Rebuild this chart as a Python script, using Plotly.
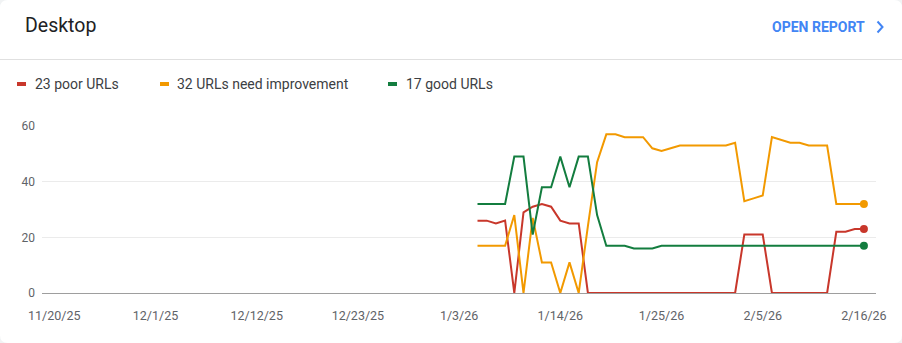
import plotly.graph_objects as go
import pandas as pd

# ---------------- data ----------------
dates = pd.date_range("2026-01-05", "2026-02-16", freq="D")

poor = [26, 26, 25, 26, 0, 29, 31, 32, 31, 26, 25, 25, 0,
        0, 0, 0, 0, 0, 0, 0, 0, 0, 0, 0, 0, 0, 0, 0, 0,
        21, 21, 21, 0, 0, 0, 0, 0, 0, 0, 22, 22, 23, 23]
need_improvement = [17, 17, 17, 17, 28, 0, 27, 11, 11, 0, 11, 0, 24,
                    47, 57, 57, 56, 56, 56, 52, 51, 52, 53, 53, 53, 53, 53, 53, 54,
                    33, 34, 35, 56, 55, 54, 54, 53, 53, 53, 32, 32, 32, 32]
good = [32, 32, 32, 32, 49, 49, 21, 38, 38, 49, 38, 49, 49,
        28, 17, 17, 17, 16, 16, 16, 17, 17, 17, 17, 17, 17, 17, 17, 17,
        17, 17, 17, 17, 17, 17, 17, 17, 17, 17, 17, 17, 17, 17]

series_names = ["23 poor URLs", "32 URLs need improvement", "17 good URLs"]
series_colors = ["#c8372b", "#f29900", "#137d3f"]
series_values = [poor, need_improvement, good]

tick_dates = ["2025-11-20", "2025-12-01", "2025-12-12", "2025-12-23", "2026-01-03",
              "2026-01-14", "2026-01-25", "2026-02-05", "2026-02-16"]
tick_labels = ["11/20/25", "12/1/25", "12/12/25", "12/23/25", "1/3/26",
               "1/14/26", "1/25/26", "2/5/26", "2/16/26"]
y_ticks = [0, 20, 40, 60]

# ---------------- layout geometry ----------------
W, H = 902, 343
L, R, T, B = 42, 876, 126, 293  # plot area in pixels


def px(x):
    return (x - L) / (R - L)


def py(y):
    return (B - y) / (B - T)


fig = go.Figure()
for name, color, vals in zip(series_names, series_colors, series_values):
    fig.add_trace(go.Scatter(x=dates, y=vals, mode="lines", name=name,
                             line=dict(color=color, width=2), showlegend=False,
                             hoverinfo="skip"))
    fig.add_trace(go.Scatter(x=[dates[-1]], y=[vals[-1]], mode="markers",
                             marker=dict(color=color, size=8), showlegend=False,
                             hoverinfo="skip"))

shapes = []
# card background with rounded corners
rx, ry = 8 / (R - L), 8 / (B - T)
x0, x1, y0, y1 = px(0), px(W), py(H), py(0)
path = (f"M {x0+rx},{y1} L {x1-rx},{y1} Q {x1},{y1} {x1},{y1-ry} "
        f"L {x1},{y0+ry} Q {x1},{y0} {x1-rx},{y0} L {x0+rx},{y0} "
        f"Q {x0},{y0} {x0},{y0+ry} L {x0},{y1-ry} Q {x0},{y1} {x0+rx},{y1} Z")
shapes.append(dict(type="path", xref="paper", yref="paper", path=path,
                   fillcolor="white", line=dict(width=0), layer="below"))
# divider
shapes.append(dict(type="line", xref="paper", yref="paper", x0=px(0), x1=px(W),
                   y0=py(59.5), y1=py(59.5), line=dict(color="#e0e0e0", width=1)))
# chevron
shapes.append(dict(type="path", xref="paper", yref="paper",
                   path=f"M {px(877.5)},{py(21.5)} L {px(882.5)},{py(27)} L {px(877.5)},{py(32.5)}",
                   line=dict(color="#4285f4", width=2)))

annotations = [
    dict(text="Desktop", x=px(23), y=py(25.5), xref="paper", yref="paper",
         xanchor="left", yanchor="middle", showarrow=False,
         font=dict(family="Roboto", size=19.5, color="#202124")),
    dict(text="<b>OPEN REPORT</b>", x=px(867), y=py(27), xref="paper", yref="paper",
         xanchor="right", yanchor="middle", showarrow=False,
         font=dict(family="Roboto", size=14, color="#4285f4")),
]

legend_x = [(17, 34), (160, 176), (388, 405)]
for (mx, tx), name, color in zip(legend_x, series_names, series_colors):
    shapes.append(dict(type="rect", xref="paper", yref="paper",
                       x0=px(mx), x1=px(mx + 9), y0=py(86), y1=py(82),
                       fillcolor=color, line=dict(width=0)))
    annotations.append(dict(text=name, x=px(tx - 1), y=py(84), xref="paper", yref="paper",
                            xanchor="left", yanchor="middle", showarrow=False,
                            font=dict(family="Roboto", size=14, color="#3c4043")))

fig.update_layout(
    width=W, height=H,
    margin=dict(l=L, r=W - R, t=T, b=H - B, pad=0),
    paper_bgcolor="#f1f3f4", plot_bgcolor="white",
    font=dict(family="Roboto", size=12, color="#5f6368"),
    shapes=shapes, annotations=annotations,
    xaxis=dict(range=["2025-11-18 16:00", "2026-02-17 07:30"],
               tickvals=tick_dates, ticktext=tick_labels,
               showgrid=False, zeroline=False, showline=False,
               ticks="", ticklabelstandoff=13,
               tickfont=dict(family="Roboto", size=12.5, color="#5f6368"),
               fixedrange=True),
    yaxis=dict(range=[0, 60], tickvals=y_ticks,
               showgrid=True, gridcolor="#ebebeb", gridwidth=1,
               zeroline=True, zerolinecolor="#9e9e9e", zerolinewidth=1,
               showline=False, ticks="", ticklabelstandoff=6,
               tickfont=dict(family="Roboto", size=12, color="#5f6368"),
               fixedrange=True),
)

fig.write_html("out.html", config={"displayModeBar": False})
